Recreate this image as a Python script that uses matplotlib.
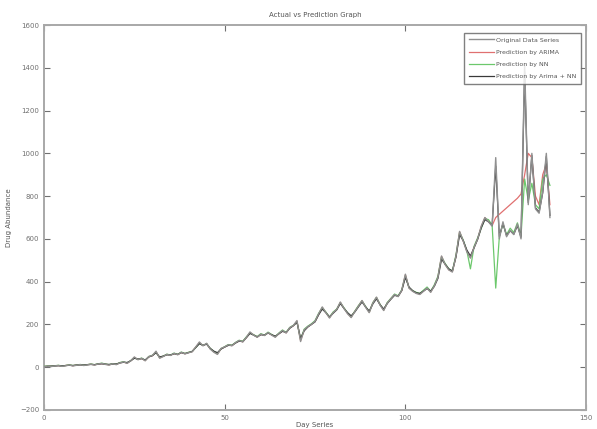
import matplotlib
matplotlib.use("Agg")
import matplotlib.pyplot as plt

title = "Actual vs Prediction Graph"
xlabel = "Day Series"
ylabel = "Drug Abundance"
legend_labels = ["Original Data Series", "Prediction by ARIMA",
                 "Prediction by NN", "Prediction by Arima + NN"]

original = [2,5,3,6,8,4,7,10,6,9,
12,8,11,14,10,15,18,13,10,16,
12,20,25,18,30,48,35,42,30,50,
55,75,42,50,60,55,65,58,70,62,
68,72,95,118,100,112,85,70,60,88,
95,105,100,115,125,118,140,165,150,140,
155,148,162,150,140,158,172,160,185,195,
218,120,175,190,200,215,250,282,255,230,
255,270,305,275,250,232,260,285,312,280,
255,300,328,290,265,300,320,340,330,360,
435,370,355,345,340,355,370,350,380,420,
520,480,455,445,520,635,590,540,510,560,
600,660,700,680,660,980,600,680,610,640,
620,670,600,1420,760,1000,740,720,820,1000,
700]

arima = [3,5,4,7,8,5,8,10,7,10,
12,9,12,14,11,15,17,14,11,16,
13,21,24,19,30,46,36,41,31,49,
54,72,44,51,60,56,64,59,69,63,
69,73,94,115,101,110,86,72,62,86,
95,104,101,114,124,119,139,162,151,141,
154,149,161,151,142,157,170,161,184,194,
215,125,174,189,201,214,248,279,256,232,
256,270,303,276,252,234,261,286,311,282,
257,301,326,292,267,301,321,339,332,359,
432,371,356,347,342,356,371,352,381,421,
518,481,456,447,519,633,591,542,512,561,
601,658,699,682,662,700,715,730,745,760,
775,790,810,900,1000,980,800,760,900,950,
760]

nn = [4,6,5,7,9,6,8,11,8,10,
13,10,12,15,12,16,19,15,12,17,
14,22,26,20,31,45,36,43,32,50,
56,70,45,52,61,57,66,60,71,64,
70,74,92,112,102,110,88,74,64,87,
96,106,103,116,126,121,142,160,152,143,
157,150,164,153,143,160,174,163,186,196,
212,130,178,192,203,218,252,278,258,234,
258,272,302,278,254,236,262,288,310,284,
258,302,326,294,268,303,322,342,334,362,
428,372,358,350,345,360,375,355,385,425,
515,485,460,450,525,630,595,545,460,565,
605,650,695,690,665,370,610,670,620,650,
630,675,615,880,780,860,760,740,880,900,
850]

hybrid = [3,4,5,6,7,6,8,9,8,10,
11,10,12,13,12,15,16,14,13,15,
15,20,23,22,30,42,38,40,34,48,
54,68,48,52,58,57,63,60,68,64,
68,74,92,110,102,108,88,75,68,85,
94,102,102,113,122,120,138,158,150,142,
152,150,160,152,145,156,168,162,182,194,
210,135,170,188,200,212,245,272,255,235,
252,268,298,275,255,240,258,282,305,282,
262,296,320,292,272,298,318,336,332,358,
420,375,358,348,345,356,368,356,378,415,
505,482,460,450,515,620,592,548,520,558,
598,652,690,680,662,940,612,672,615,638,
622,662,608,1380,770,990,745,725,815,985,
710]

x = list(range(len(original)))
xticks = [0, 50, 100, 150]
yticks = [-200, 0, 200, 400, 600, 800, 1000, 1200, 1400, 1600]

fig = plt.figure(figsize=(5.97, 4.29), dpi=100)
ax = fig.add_axes([0.0737, 0.0443, 0.908, 0.8974])

l_a, = ax.plot(x, arima, color="#e07070", lw=0.9, zorder=2)
l_n, = ax.plot(x, nn, color="#6cc86c", lw=0.9, zorder=3)
l_h, = ax.plot(x, hybrid, color="#3a3a3a", lw=0.9, zorder=4)
l_o, = ax.plot(x, original, color="#909090", lw=1.0, zorder=5)

ax.set_xlim(0, 150)
ax.set_ylim(-200, 1600)
ax.set_xticks(xticks)
ax.set_yticks(yticks)
ax.tick_params(direction="in", length=4, width=0.8, colors="#707070",
               labelsize=5, top=True, right=True)
for s in ax.spines.values():
    s.set_color("#a8a8a8")
    s.set_linewidth(1.4)

ax.set_title(title, fontsize=5, color="#555555", pad=6)
ax.set_xlabel(xlabel, fontsize=5, color="#555555", labelpad=1)
ax.set_ylabel(ylabel, fontsize=5, color="#555555", labelpad=6)

leg = ax.legend([l_o, l_a, l_n, l_h], legend_labels, loc="upper right",
                fontsize=4.5, frameon=True, fancybox=False,
                handlelength=4, handletextpad=0.4, borderpad=0.7,
                labelspacing=1.1, bbox_to_anchor=(0.996, 0.988))
leg.get_frame().set_edgecolor("#606060")
leg.get_frame().set_linewidth(1.0)
for t in leg.get_texts():
    t.set_color("#555555")
leg.set_zorder(10)

fig.savefig("out.png", dpi=100)
